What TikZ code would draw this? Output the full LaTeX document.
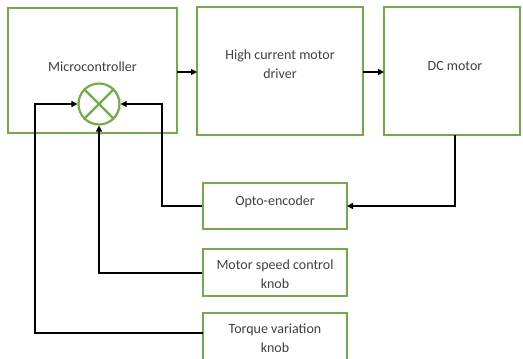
\documentclass[tikz,border=0pt]{standalone}
\usepackage{fontspec}
\setmainfont{Carlito}
\usetikzlibrary{arrows.meta,calc}
\definecolor{boxgreen}{RGB}{112,173,71}
\definecolor{txtgray}{RGB}{64,64,64}
\begin{document}
\begin{tikzpicture}[x=1bp,y=-1bp,
  blk/.style={draw=boxgreen,line width=2.2bp,fill=white,inner sep=0pt},
  lbl/.style={text=txtgray,font=\fontsize{14bp}{18.5bp}\selectfont,align=center,inner sep=0pt},
  wire/.style={draw=black,line width=2bp,-{Triangle[length=6bp,width=6bp]}},
  plain/.style={draw=black,line width=2bp}]
\useasboundingbox (0,0) rectangle (523,358);
% blocks
\node[blk,minimum width=169bp,minimum height=125bp] (mc) at (92.5,70.5) {};
\node[blk,minimum width=166bp,minimum height=128bp] (drv) at (280,71) {};
\node[blk,minimum width=136bp,minimum height=128bp] (dc) at (452,71) {};
\node[blk,minimum width=144bp,minimum height=46bp] (opto) at (275,206) {};
\node[blk,minimum width=144bp,minimum height=47bp] (spd) at (275,272.5) {};
\node[blk,minimum width=144bp,minimum height=48bp] (trq) at (275,337) {};
% labels
\node[lbl] (mct) at (92.5,67) {Microcontroller};
\node[lbl] (drvt) at (280,64) {High current motor\\driver};
\node[lbl] (dct) at (455,66) {DC motor};
\node[lbl] (optot) at (275,202) {Opto-encoder};
\node[lbl] (spdt) at (275,274) {Motor speed control\\knob};
\node[lbl] (trqt) at (275,338) {Torque variation\\knob};
% summing junction
\node[draw=boxgreen,line width=2.2bp,circle,minimum size=41bp,inner sep=0pt] (sum) at (99,104) {};
\draw[boxgreen,line width=2.2bp] (sum.north west) -- (sum.south east) (sum.north east) -- (sum.south west);
% coordinates
\coordinate (mcout) at (177,72);
\coordinate (drvin) at (197,72);
\coordinate (drvout) at (363,72);
\coordinate (dcin) at (384,72);
\coordinate (dcbot) at (455,135);
\coordinate (optoin) at (347,206);
\coordinate (trqout) at (203,333);
% connectors
\draw[wire] (mcout) -- (drvin);
\draw[wire] (drvout) -- (dcin);
\draw[wire] (dcbot) |- (optoin);
\draw[wire] (opto.west) -| (162,104) -- (sum.east);
\draw[wire] (spd.west) -| (sum.south);
\draw[wire] (trqout) -| (35,104) -- (sum.west);
\end{tikzpicture}
\end{document}
